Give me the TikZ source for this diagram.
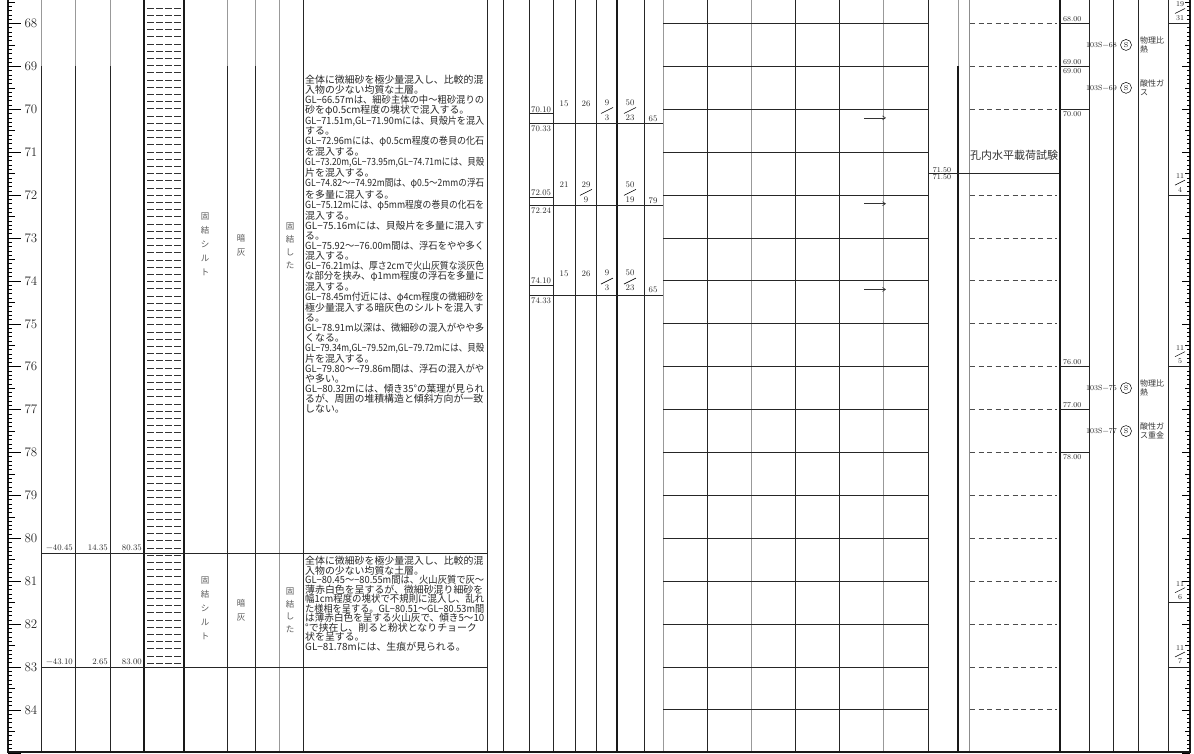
\documentclass[tikz,border=0pt]{standalone}
\usepackage{fontspec}
\usepackage{graphicx}
\newfontfamily\jp{Noto Sans CJK JP}
\usetikzlibrary{arrows.meta}
\newsavebox\linebox
\newcommand\fl[1]{\sbox\linebox{#1}\ifdim\wd\linebox>179pt\relax\resizebox{179pt}{\height}{\usebox\linebox}\else\usebox\linebox\fi}
\begin{document}
\begin{tikzpicture}[x=1pt,y=-1pt,
  declare function={D(\d)=23.5+42.9*(\d-68);},
  col/.style={line width=0.9pt, black!85},
  colg/.style={line width=0.9pt, black!40},
  colb/.style={line width=1.3pt, black!90},
  num/.style={font=\fontsize{8.5}{9}\selectfont, inner sep=0pt, text=black!85},
  small/.style={font=\fontsize{7.5}{8}\selectfont, inner sep=0pt, text=black!85},
  jps/.style={font=\jp\fontsize{8}{9.5}\selectfont, inner sep=0pt, text=black!80, align=left},
  vert/.style={font=\jp\fontsize{8.5}{14}\selectfont, inner sep=0pt, text=black!65, align=center},
  desc/.style={font=\jp\fontsize{9.9}{9.95}\selectfont, inner sep=0pt, text=black!85, align=left, anchor=north west},
  arr/.style={line width=0.6pt, black!80, -{Straight Barb[length=3pt,width=4pt]}},
  dsh/.style={line width=0.9pt, black!70, dash pattern=on 5pt off 3.5pt},
]
\useasboundingbox (0,0) rectangle (1194,753);

% ---------- scales ----------
\draw[colb] (8,0) -- (8,752);
\draw[colb] (1190,0) -- (1190,752);
\foreach \k in {675,...,850}{
  \pgfmathsetmacro\yy{D(\k/10)}
  \pgfmathsetmacro\ll{mod(\k,10)==0 ? 13 : (mod(\k,5)==0 ? 7 : 4)}
  \pgfmathsetmacro\lr{mod(\k,10)==0 ? 8 : (mod(\k,5)==0 ? 5 : 3)}
  \draw[line width=0.6pt] (8,\yy) -- ++(\ll,0);
  \draw[line width=0.6pt] (1190,\yy) -- ++(-\lr,0);
}
\foreach \d in {68,...,84}
  \node[font=\fontsize{13}{13}\selectfont, inner sep=0pt, text=black!85] (dl\d) at (31,{D(\d)}) {\d};

% ---------- vertical column lines ----------
\foreach \x in {41,75,110,227,255}{
  \draw[colg] (\x,0) -- (\x,{D(69)});
  \draw[col] (\x,{D(69)}) -- (\x,752);
}
\foreach \x in {144,184} \draw[colb] (\x,0) -- (\x,752);
\draw[colg] (279,0) -- (279,752);
\foreach \x in {303,487,503,529,553,575,596,644} \draw[col] (\x,0) -- (\x,752);
\draw[colb] (617,0) -- (617,752);
\foreach \x in {663,751,883} \draw[colg] (\x,0) -- (\x,752);
\foreach \x in {707,795,839,928} \draw[col] (\x,0) -- (\x,752);
\draw[colg] (958,0) -- (958,{D(69)});
\draw[colb] (958,{D(69)}) -- (958,752);
\draw[line width=0.5pt, black!45] (969,0) -- (969,752);
\draw[colb] (1060,0) -- (1060,752);
\foreach \x in {1089,1113,1138,1168} \draw[col] (\x,0) -- (\x,752);
\draw[colb] (7,752) -- (1191,752);

% ---------- silt pattern ----------
\foreach \r in {0,...,91}
  \draw[line width=0.7pt, black!80, dash pattern=on 7pt off 2pt] (147,{8+7.2*\r}) -- (181,{8+7.2*\r});

% ---------- layer boundaries ----------
\draw[col] (41,{D(80.35)}) -- (487,{D(80.35)});
\draw[col] (41,{D(83)}) -- (487,{D(83)});
\node[num, anchor=south east] (e1) at (73,{D(80.35)-2}) {−40.45};
\node[num, anchor=south east] (t1) at (108,{D(80.35)-2}) {14.35};
\node[num, anchor=south east] (p1) at (142,{D(80.35)-2}) {80.35};
\node[num, anchor=south east] (e2) at (73,{D(83)-2}) {−43.10};
\node[num, anchor=south east] (t2) at (108,{D(83)-2}) {2.65};
\node[num, anchor=south east] (p2) at (142,{D(83)-2}) {83.00};

% ---------- vertical texts ----------
\node[vert] (n1) at (205,244.5) {固\\結\\シ\\ル\\ト};
\node[vert] (c1) at (241,245) {暗\\灰};
\node[vert, font=\jp\fontsize{8.5}{13}\selectfont] (s1) at (290,245.5) {固\\結\\し\\た};
\node[vert] (n2) at (205,608.5) {固\\結\\シ\\ル\\ト};
\node[vert] (c2) at (241,610) {暗\\灰};
\node[vert, font=\jp\fontsize{8.5}{12.5}\selectfont] (s2) at (290,610.5) {固\\結\\し\\た};

% ---------- descriptions ----------
\node[desc] (desc1) at (305,75) {\fl{全体に微細砂を極少量混入し、比較的混}\\
\fl{入物の少ない均質な土層。}\\
\fl{GL−66.57mは、細砂主体の中〜粗砂混りの}\\
\fl{砂をφ0.5cm程度の塊状で混入する。}\\
\fl{GL−71.51m,GL−71.90mには、貝殻片を混入}\\
\fl{する。}\\
\fl{GL−72.96mには、φ0.5cm程度の巻貝の化石}\\
\fl{を混入する。}\\
\fl{GL−73.20m,GL−73.95m,GL−74.71mには、貝殻}\\
\fl{片を混入する。}\\
\fl{GL−74.82〜−74.92m間は、φ0.5〜2mmの浮石}\\
\fl{を多量に混入する。}\\
\fl{GL−75.12mには、φ5mm程度の巻貝の化石を}\\
\fl{混入する。}\\
\fl{GL−75.16mには、貝殻片を多量に混入す}\\
\fl{る。}\\
\fl{GL−75.92〜−76.00m間は、浮石をやや多く}\\
\fl{混入する。}\\
\fl{GL−76.21mは、厚さ2cmで火山灰質な淡灰色}\\
\fl{な部分を挟み、φ1mm程度の浮石を多量に}\\
\fl{混入する。}\\
\fl{GL−78.45m付近には、φ4cm程度の微細砂を}\\
\fl{極少量混入する暗灰色のシルトを混入す}\\
\fl{る。}\\
\fl{GL−78.91m以深は、微細砂の混入がやや多}\\
\fl{くなる。}\\
\fl{GL−79.34m,GL−79.52m,GL−79.72mには、貝殻}\\
\fl{片を混入する。}\\
\fl{GL−79.80〜−79.86m間は、浮石の混入がや}\\
\fl{や多い。}\\
\fl{GL−80.32mには、傾き35°の葉理が見られ}\\
\fl{るが、周囲の堆積構造と傾斜方向が一致}\\
\fl{しない。}};
\node[desc, font=\jp\fontsize{9.9}{9.5}\selectfont] (desc2) at (305,556) {\fl{全体に微細砂を極少量混入し、比較的混}\\
\fl{入物の少ない均質な土層。}\\
\fl{GL−80.45〜−80.55m間は、火山灰質で灰〜}\\
\fl{薄赤白色を呈するが、微細砂混り細砂を}\\
\fl{幅1cm程度の塊状で不規則に混入し、乱れ}\\
\fl{た様相を呈する。GL−80.51〜GL−80.53m間}\\
\fl{は薄赤白色を呈する火山灰で、傾き5〜10}\\
\fl{°で挟在し、削ると粉状となりチョーク}\\
\fl{状を呈する。}\\
\fl{GL−81.78mには、生痕が見られる。}};

% ---------- SPT ----------
\foreach \a/\b/\i in {70.10/70.33/1, 72.05/72.24/2, 74.10/74.33/3}{
  \draw[col] (529,{D(\a)}) -- (553,{D(\a)});
  \draw[col] (529,{D(\b)}) -- (663,{D(\b)});
  \node[num, anchor=south west] (sa\i) at (531,{D(\a)-1}) {\a};
  \node[num, anchor=north west] (sb\i) at (531,{D(\b)+2}) {\b};
}
\node[num] (k11) at (564,{D(70.33)-20}) {15};
\node[num] (k12) at (586,{D(70.33)-20}) {26};
\node[num] (k13) at (607,{D(70.33)-21}) {9};
\node[num] (k14) at (607,{D(70.33)-6}) {3};
\draw[line width=0.6pt] (601,{D(70.33)-10}) -- (613,{D(70.33)-16});
\node[num] (k15) at (630,{D(70.33)-21}) {50};
\node[num] (k16) at (630,{D(70.33)-6}) {23};
\draw[line width=0.6pt] (624,{D(70.33)-10}) -- (636,{D(70.33)-16});
\node[num] (k17) at (653,{D(70.33)-5}) {65};

\node[num] (k21) at (564,{D(72.24)-21}) {21};
\node[num] (k22) at (586,{D(72.24)-21}) {29};
\node[num] (k23) at (586,{D(72.24)-6}) {9};
\draw[line width=0.6pt] (580,{D(72.24)-10}) -- (592,{D(72.24)-16});
\node[num] (k25) at (630,{D(72.24)-21}) {50};
\node[num] (k26) at (630,{D(72.24)-6}) {19};
\draw[line width=0.6pt] (624,{D(72.24)-10}) -- (636,{D(72.24)-16});
\node[num] (k27) at (653,{D(72.24)-5}) {79};

\node[num] (k31) at (564,{D(74.33)-21}) {15};
\node[num] (k32) at (586,{D(74.33)-21}) {26};
\node[num] (k33) at (607,{D(74.33)-22}) {9};
\node[num] (k34) at (607,{D(74.33)-7}) {3};
\draw[line width=0.6pt] (601,{D(74.33)-11}) -- (613,{D(74.33)-17});
\node[num] (k35) at (630,{D(74.33)-22}) {50};
\node[num] (k36) at (630,{D(74.33)-7}) {23};
\draw[line width=0.6pt] (624,{D(74.33)-11}) -- (636,{D(74.33)-17});
\node[num] (k37) at (653,{D(74.33)-5}) {65};

% ---------- grid ----------
\foreach \d in {68,...,84} \draw[col] (663,{D(\d)}) -- (928,{D(\d)});
\foreach \d/\i in {70.2/1,72.2/2,74.2/3}{
  \coordinate (as\i) at (864,{D(\d)});
  \coordinate (ae\i) at (886,{D(\d)});
  \draw[arr] (as\i) -- (ae\i);
}

% ---------- load test ----------
\draw[col] (928,{D(71.5)}) -- (1059,{D(71.5)});
\node[small, anchor=south] (lt1) at (942,{D(71.5)-1}) {71.50};
\node[small, anchor=north] (lt2) at (942,{D(71.5)+1}) {71.50};
\node[font=\jp\fontsize{11}{11}\selectfont, inner sep=0pt, text=black!80] (lt) at (1014,155) {孔内水平載荷試験};
\foreach \d in {68,69,70,72,73,74,75,76,77,78,79,80,81,82,83,84}
  \draw[dsh] (970,{D(\d)}) -- (1057,{D(\d)});

% ---------- samples ----------
\foreach \d in {68,69,70,76,77,78} \draw[col] (1060,{D(\d)}) -- (1089,{D(\d)});
\node[small, anchor=south west] (sd1) at (1063,{D(68)-1.5}) {68.00};
\node[small, anchor=south west] (sd2) at (1063,{D(69)-1.5}) {69.00};
\node[small, anchor=north west] (sd3) at (1063,{D(69)+1.5}) {69.00};
\node[small, anchor=north west] (sd4) at (1063,{D(70)+1.5}) {70.00};
\node[small, anchor=south west] (sd5) at (1063,{D(76)-1.5}) {76.00};
\node[small, anchor=south west] (sd6) at (1063,{D(77)-1.5}) {77.00};
\node[small, anchor=north west] (sd7) at (1063,{D(78)+1.5}) {78.00};
\foreach \d/\t/\i in {68.5/68/1,69.5/69/2,76.5/75/3,77.5/77/4}{
  \node[small, anchor=west] (sm\i) at (1086,{D(\d)}) {103S−\t};
  \node[circle, draw, line width=0.5pt, inner sep=0pt, minimum size=11pt, font=\fontsize{7}{7}\selectfont] (sc\i) at (1126,{D(\d)}) {S};
}
\node[jps, anchor=west] (pr1) at (1140,{D(68.5)}) {物理比\\熱};
\node[jps, anchor=west] (pr2) at (1140,{D(69.5)}) {酸性ガ\\ス};
\node[jps, anchor=west] (pr3) at (1140,{D(76.5)}) {物理比\\熱};
\node[jps, anchor=west] (pr4) at (1140,{D(77.5)}) {酸性ガ\\ス重金};

% ---------- right fractions ----------
\foreach \d/\u/\v/\i in {68/19/31/1,72/11/4/2,76/11/5/3,81.5/11/6/4,83/11/7/5}{
  \draw[col] (1168,{D(\d)}) -- (1190,{D(\d)});
  \node[small] (fu\i) at (1180,{D(\d)-19}) {\u};
  \node[small] (fv\i) at (1180,{D(\d)-5.5}) {\v};
  \draw[line width=0.5pt] (1175,{D(\d)-10}) -- (1185,{D(\d)-15});
}
\end{tikzpicture}
\end{document}
